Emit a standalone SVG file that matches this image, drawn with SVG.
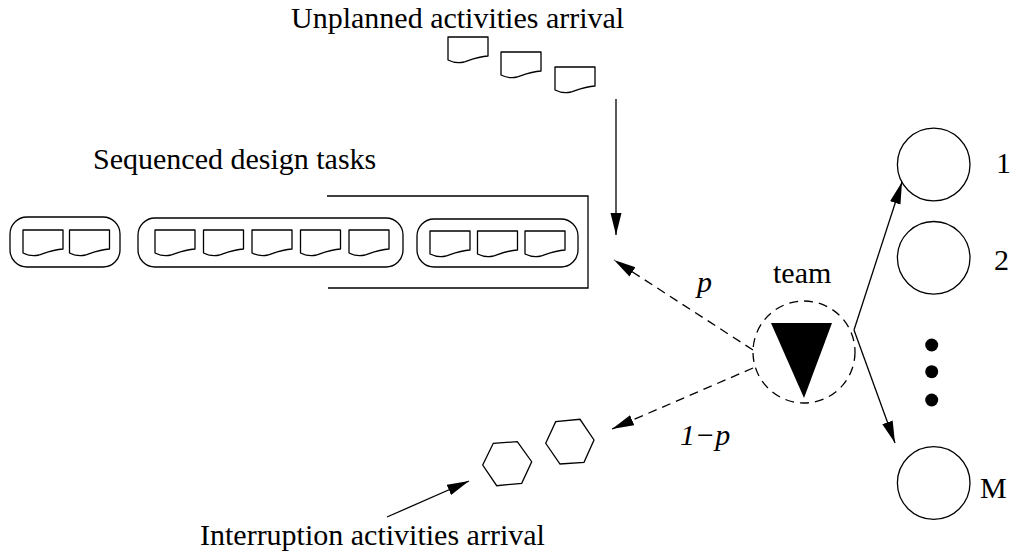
<svg xmlns="http://www.w3.org/2000/svg" width="1012" height="552" viewBox="0 0 1012 552">
  <style>
    text { font-family: 'Liberation Serif', 'Times New Roman', Times, serif; font-size: 30px; fill: #000; }
    .it { font-style: italic; }
    .ln { fill: none; stroke: #000; stroke-width: 1.3; }
    .dash { fill: none; stroke: #000; stroke-width: 1.3; stroke-dasharray: 9 6; }
    .doc { fill: #fff; stroke: #000; stroke-width: 1.3; stroke-linejoin: round; }
  </style>
  <defs>
    <!-- page-shaped task symbol: flat top, wavy bottom edge -->
    <path id="docShape" d="M0,0 H40 V19 C30,19.5 22,23 16,25 C10,26.5 4,25 0,23 Z"/>
    <marker id="head" markerUnits="userSpaceOnUse" markerWidth="24" markerHeight="12" refX="22" refY="5.5" orient="auto">
      <path d="M0,0 L22,5.5 L0,11 Z" fill="#000"/>
    </marker>
  </defs>

  <rect width="1012" height="552" fill="#fff"/>

  <!-- unplanned activities arriving -->
  <g id="unplanned">
    <text font-family="Liberation Serif, serif" x="291" y="28">Unplanned activities arrival</text>
    <use href="#docShape" class="doc" x="448" y="37"/>
    <use href="#docShape" class="doc" x="501" y="52"/>
    <use href="#docShape" class="doc" x="555" y="67"/>
  </g>

  <!-- sequenced design tasks queue -->
  <g id="sequenced">
    <text font-family="Liberation Serif, serif" x="93" y="169">Sequenced design tasks</text>
    <rect class="ln" x="10" y="217" width="110" height="50" rx="17"/>
    <use href="#docShape" class="doc" x="23" y="230"/>
    <use href="#docShape" class="doc" x="69.5" y="230"/>

    <rect class="ln" x="138" y="218" width="265" height="49" rx="17"/>
    <use href="#docShape" class="doc" x="155" y="230"/>
    <use href="#docShape" class="doc" x="203.5" y="230"/>
    <use href="#docShape" class="doc" x="252" y="230"/>
    <use href="#docShape" class="doc" x="300.5" y="230"/>
    <use href="#docShape" class="doc" x="349" y="230"/>

    <rect class="ln" x="417" y="219" width="161" height="48" rx="17"/>
    <use href="#docShape" class="doc" x="430" y="231"/>
    <use href="#docShape" class="doc" x="477.5" y="231"/>
    <use href="#docShape" class="doc" x="525" y="231"/>

    <path class="ln" d="M327,196 H588 V288 H328"/>
  </g>

  <!-- interruption activities -->
  <g id="interruptions">
    <text font-family="Liberation Serif, serif" x="200" y="545">Interruption activities arrival</text>
    <polygon class="ln" points="482.7,465 493.3,443.3 517.3,441.7 531.7,461.7 521.7,483.3 496.7,485.7"/>
    <polygon class="ln" points="545.7,443.3 555.7,421.7 580,419.3 594,440 584,462.3 560,464"/>
  </g>

  <!-- design team -->
  <g id="team">
    <text font-family="Liberation Serif, serif" x="773" y="283">team</text>
    <circle class="dash" cx="804" cy="352" r="51"/>
    <polygon points="771,323 832,323 804,398" fill="#000"/>
  </g>

  <!-- designers 1..M -->
  <g id="designer-1">
    <circle class="ln" cx="933.7" cy="164.5" r="36.3"/>
    <text font-family="Liberation Serif, serif" x="996" y="173">1</text>
  </g>
  <g id="designer-2">
    <circle class="ln" cx="933.7" cy="257.8" r="36.3"/>
    <text font-family="Liberation Serif, serif" x="994" y="270">2</text>
  </g>
  <g id="ellipsis">
    <circle cx="931.7" cy="345" r="6.5" fill="#000"/>
    <circle cx="931.7" cy="371.7" r="6.5" fill="#000"/>
    <circle cx="931.7" cy="400" r="6.5" fill="#000"/>
  </g>
  <g id="designer-M">
    <circle class="ln" cx="933.7" cy="483" r="36.3"/>
    <text font-family="Liberation Serif, serif" x="980" y="498">M</text>
  </g>

  <!-- connectors -->
  <g id="connectors">
    <line class="ln" x1="616" y1="99" x2="616" y2="235" marker-end="url(#head)"/>
    <line class="dash" x1="753" y1="350" x2="614" y2="260" marker-end="url(#head)"/>
    <line class="dash" x1="753" y1="368" x2="612" y2="429" marker-end="url(#head)"/>
    <line class="ln" x1="387" y1="517" x2="469" y2="481" marker-end="url(#head)"/>
    <line class="ln" x1="854" y1="330" x2="902" y2="182" marker-end="url(#head)"/>
    <line class="ln" x1="854" y1="330" x2="895" y2="443" marker-end="url(#head)"/>
    <text class="it" font-family="Liberation Serif, serif" x="697" y="292">p</text>
    <text class="it" font-family="Liberation Serif, serif" x="680" y="445">1−p</text>
  </g>
</svg>
